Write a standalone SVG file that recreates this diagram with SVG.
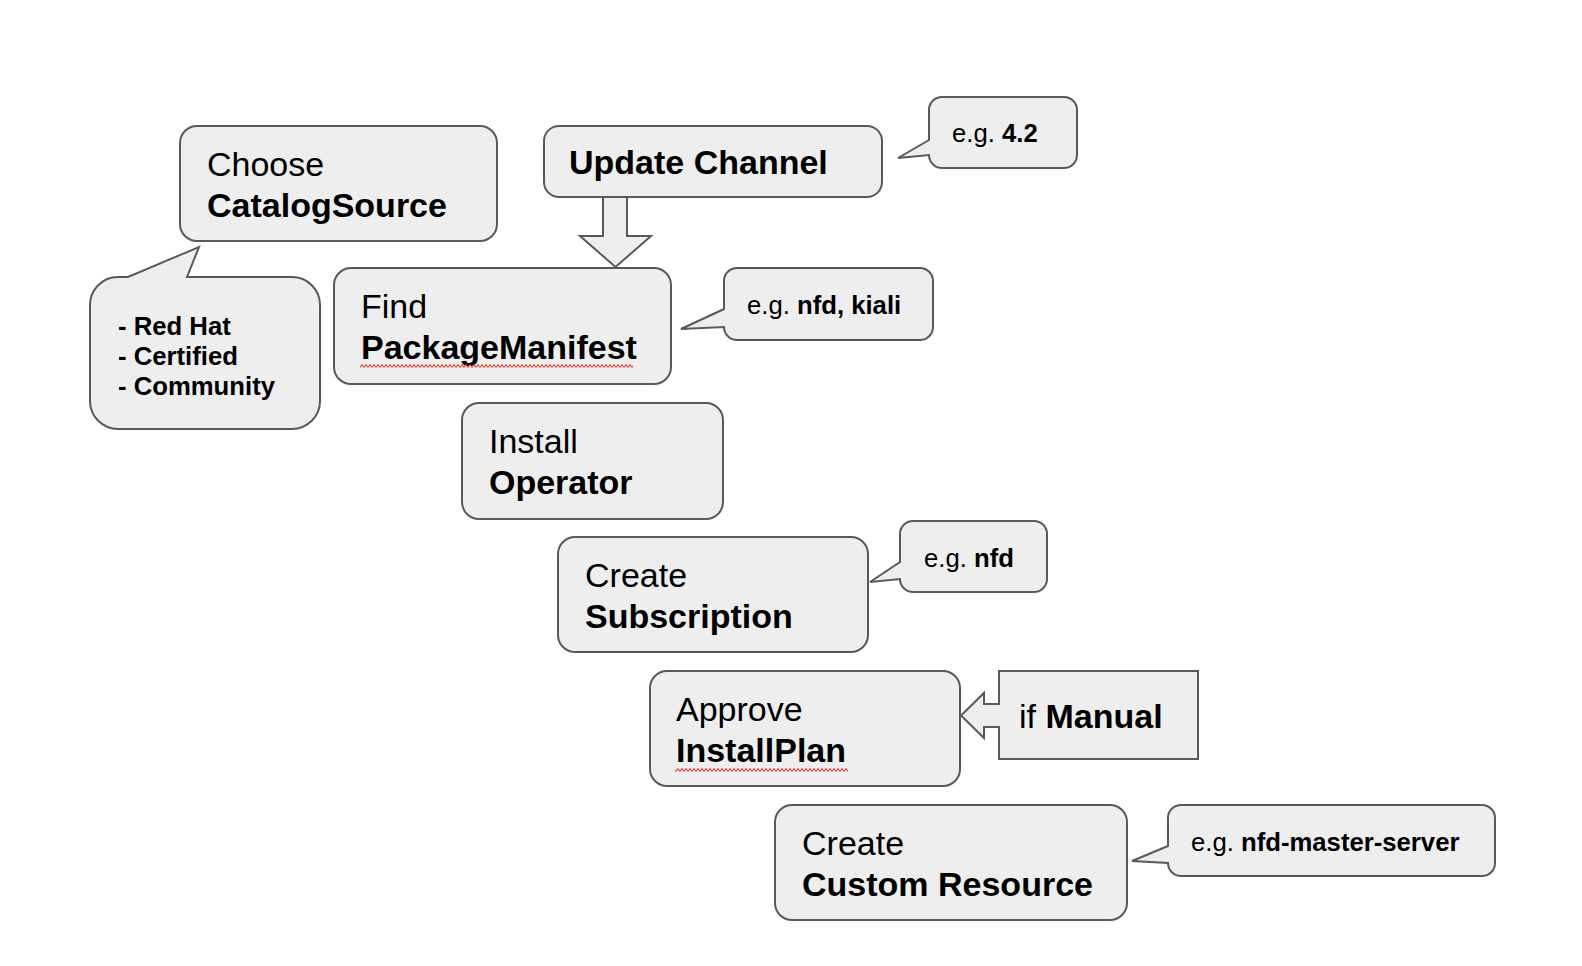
<svg xmlns="http://www.w3.org/2000/svg" width="1582" height="966" viewBox="0 0 1582 966">
<style>
.box{fill:#eeeeee;stroke:#595959;stroke-width:2}
.t{font-family:"Liberation Sans",Arial,sans-serif;fill:#000}
.big{font-size:34px}
.sm{font-size:25.7px}
.b{font-weight:bold}
</style>
<defs>
<pattern id="squig" width="4" height="4" patternUnits="userSpaceOnUse">
<path d="M0,3.5 L2,0.7 L4,3.5" fill="none" stroke="#e2463c" stroke-width="1.1"/>
</pattern>
</defs>
<rect width="1582" height="966" fill="#ffffff"/>
<g id="connectors">
<path class="box" d="M603,197 V236 H580 L615.5,267 L651,236 H627 V197"/>
</g>
<g id="choose">
<rect class="box" x="180" y="126" width="317" height="115" rx="17"/>
<text class="t big" x="207" y="176">Choose</text>
<text class="t big b" x="207" y="217">CatalogSource</text>
</g>
<g id="catalog-callout">
<path class="box" d="M118,277 H128 L199,247 L187,277 H292 A28,28 0 0 1 320,305 V401 A28,28 0 0 1 292,429 H118 A28,28 0 0 1 90,401 V305 A28,28 0 0 1 118,277 Z"/>
<text class="t sm b" x="118" y="335">- Red Hat</text>
<text class="t sm b" x="118" y="365">- Certified</text>
<text class="t sm b" x="118" y="395">- Community</text>
</g>
<g id="update-channel">
<rect class="box" x="544" y="126" width="338" height="71" rx="15"/>
<text class="t big b" x="569" y="174">Update Channel</text>
</g>
<g id="channel-callout">
<path class="box" d="M942,97 H1064 A13,13 0 0 1 1077,110 V155 A13,13 0 0 1 1064,168 H942 A13,13 0 0 1 929,155 L898,158 L929,140 V110 A13,13 0 0 1 942,97 Z"/>
<text class="t sm" x="952" y="142">e.g. <tspan class="b">4.2</tspan></text>
</g>
<g id="find">
<rect class="box" x="334" y="268" width="337" height="116" rx="17"/>
<text class="t big" x="361" y="318">Find</text>
<text class="t big b" x="361" y="359">PackageManifest</text>
<rect x="360" y="364" width="273" height="4" fill="url(#squig)"/>
</g>
<g id="package-callout">
<path class="box" d="M737,268 H920 A13,13 0 0 1 933,281 V327 A13,13 0 0 1 920,340 H737 A13,13 0 0 1 724,327 L681,329 L724,309 V281 A13,13 0 0 1 737,268 Z"/>
<text class="t sm" x="747" y="314">e.g. <tspan class="b">nfd, kiali</tspan></text>
</g>
<g id="install">
<rect class="box" x="462" y="403" width="261" height="116" rx="17"/>
<text class="t big" x="489" y="453">Install</text>
<text class="t big b" x="489" y="494">Operator</text>
</g>
<g id="subscription">
<rect class="box" x="558" y="537" width="310" height="115" rx="17"/>
<text class="t big" x="585" y="587">Create</text>
<text class="t big b" x="585" y="628">Subscription</text>
</g>
<g id="subscription-callout">
<path class="box" d="M913,521 H1034 A13,13 0 0 1 1047,534 V579 A13,13 0 0 1 1034,592 H913 A13,13 0 0 1 900,579 L870,582 L900,562 V534 A13,13 0 0 1 913,521 Z"/>
<text class="t sm" x="924" y="567">e.g. <tspan class="b">nfd</tspan></text>
</g>
<g id="approve">
<rect class="box" x="650" y="671" width="310" height="115" rx="17"/>
<text class="t big" x="676" y="721">Approve</text>
<text class="t big b" x="676" y="762">InstallPlan</text>
<rect x="675" y="768" width="173" height="4" fill="url(#squig)"/>
</g>
<g id="if-manual">
<path class="box" d="M999,671 H1198 V759 H999 V727 H984 V738 L961,715.5 L984,693 V704 H999 Z"/>
<text class="t big" x="1019" y="728">if <tspan class="b">Manual</tspan></text>
</g>
<g id="custom-resource">
<rect class="box" x="775" y="805" width="352" height="115" rx="17"/>
<text class="t big" x="802" y="855">Create</text>
<text class="t big b" x="802" y="896">Custom Resource</text>
</g>
<g id="cr-callout">
<path class="box" d="M1181,805 H1482 A13,13 0 0 1 1495,818 V863 A13,13 0 0 1 1482,876 H1181 A13,13 0 0 1 1168,863 L1132,861 L1168,846 V818 A13,13 0 0 1 1181,805 Z"/>
<text class="t sm" x="1191" y="851">e.g. <tspan class="b">nfd-master-server</tspan></text>
</g>
</svg>
